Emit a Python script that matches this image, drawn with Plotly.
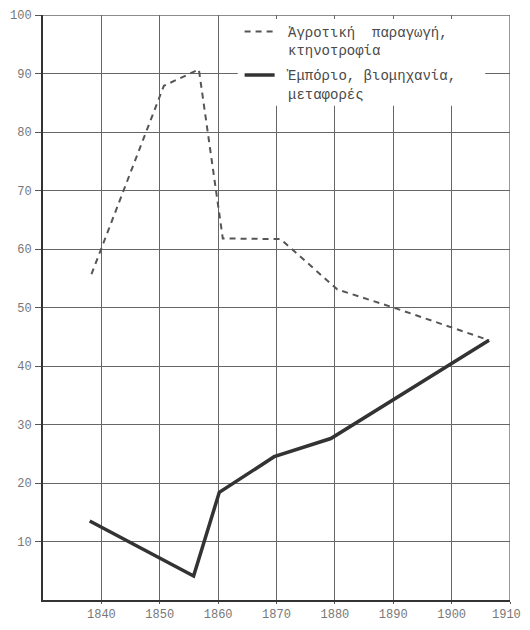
import plotly.graph_objects as go

# Agriculture / livestock share (%)
agri_years = [1838.3, 1850.7, 1856.7, 1860.8, 1870.7, 1880.4, 1890.6, 1906.4]
agri_values = [55.7, 87.9, 90.7, 61.8, 61.7, 53.1, 49.8, 44.4]

# Trade / industry / transport share (%)
trade_years = [1838.0, 1855.8, 1860.2, 1869.6, 1879.3, 1906.4]
trade_values = [13.5, 4.1, 18.4, 24.5, 27.6, 44.4]

x_ticks = [1840, 1850, 1860, 1870, 1880, 1890, 1900, 1910]
y_ticks = [10, 20, 30, 40, 50, 60, 70, 80, 90, 100]

NB = "\u00a0"
x_tick_text = [str(v) for v in x_ticks[:-1]] + [str(x_ticks[-1]) + NB]

agri_name = NB + "Ἀγροτική" + NB * 2 + "παραγωγή,<br>" + NB + "κτηνοτροφία"
trade_name = NB + "Ἐμπόριο," + NB + "βιομηχανία,<br>" + NB + "μεταφορές"

X_MIN, X_MAX = 1830, 1910
Y_MIN, Y_MAX = 0, 100

GRID = "#666666"
MONO = "Liberation Mono, DejaVu Sans Mono, monospace"

fig = go.Figure()
fig.add_trace(go.Scatter(
    x=agri_years, y=agri_values, mode="lines", name=agri_name,
    legendgroup="a",
    line=dict(color="#555555", width=2, dash="6px,5px"),
))
fig.add_trace(go.Scatter(
    x=trade_years, y=trade_values, mode="lines", name=trade_name,
    legendgroup="b",
    line=dict(color="#333333", width=3.5),
))

# top and right frame lines (styled like the grid)
fig.add_shape(type="line", xref="x", yref="y", x0=X_MIN, x1=X_MAX, y0=Y_MAX, y1=Y_MAX,
              line=dict(color=GRID, width=1.3), layer="below")
fig.add_shape(type="line", xref="x", yref="y", x0=X_MAX, x1=X_MAX, y0=Y_MIN, y1=Y_MAX,
              line=dict(color=GRID, width=1.3), layer="below")
# white box behind the legend, hiding the grid there
fig.add_shape(type="rect", xref="paper", yref="paper", x0=0.417, x1=0.947, y0=0.845, y1=0.993,
              fillcolor="white", line=dict(width=0), layer="above")

fig.update_layout(
    width=514, height=614,
    margin=dict(l=35, r=12, t=7, b=22, autoexpand=False),
    paper_bgcolor="white", plot_bgcolor="white",
    showlegend=True,
    legend=dict(
        x=0.421, y=0.987, xanchor="left", yanchor="top", yref="container",
        bgcolor="rgba(0,0,0,0)", borderwidth=0,
        font=dict(family=MONO, size=14, color="#4a4a4a"),
        valign="top", traceorder="grouped", tracegroupgap=4,
    ),
    xaxis=dict(
        range=[X_MIN, X_MAX], tickvals=x_ticks, ticktext=x_tick_text,
        showgrid=True, gridcolor=GRID, gridwidth=1.3,
        showline=True, linecolor="#333333", linewidth=2,
        ticks="outside", ticklen=2, tickcolor="#555555",
        tickfont=dict(family=MONO, size=12, color="#777777"),
        ticklabeloverflow="allow",
        zeroline=False, fixedrange=True, automargin=False,
    ),
    yaxis=dict(
        range=[Y_MIN, Y_MAX], tickvals=y_ticks, ticktext=[str(v) for v in y_ticks],
        showgrid=True, gridcolor=GRID, gridwidth=1.3,
        showline=True, linecolor="#333333", linewidth=2,
        ticks="outside", ticklen=6, tickcolor="#555555",
        tickfont=dict(family=MONO, size=12, color="#777777"),
        ticklabelstandoff=1, ticklabeloverflow="allow",
        zeroline=False, fixedrange=True, automargin=False,
    ),
)

fig.write_html("out.html")
